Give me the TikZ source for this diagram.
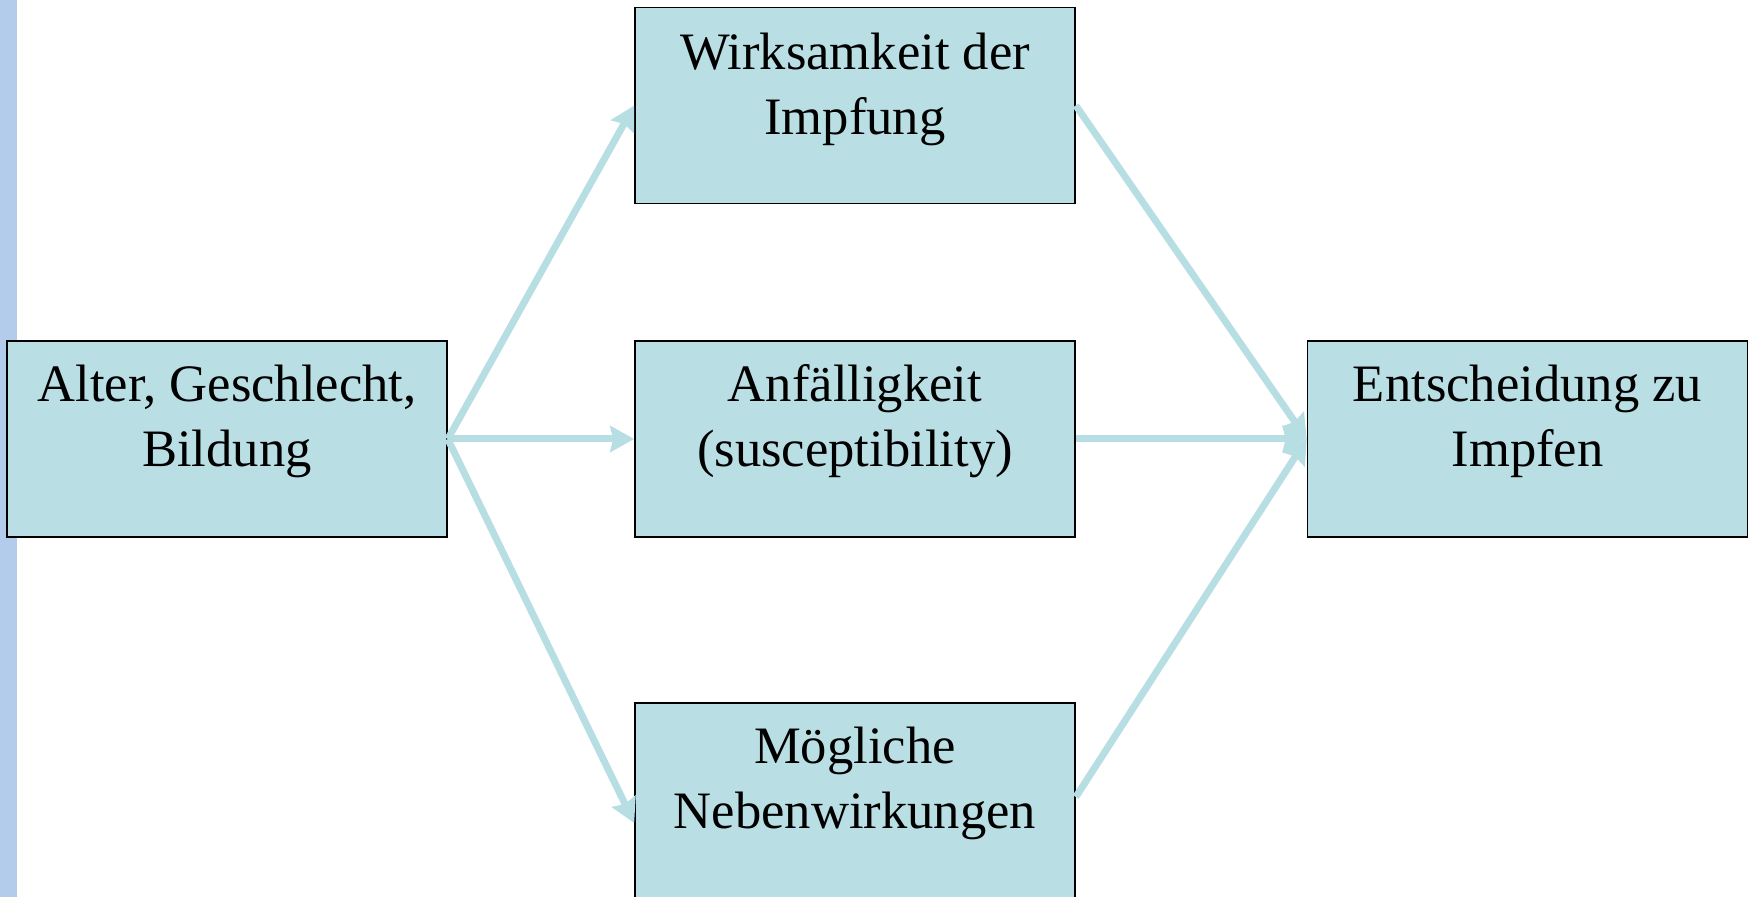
\documentclass[tikz,border=0pt]{standalone}
\usepackage{fontspec}
\setmainfont{Liberation Serif}
\usetikzlibrary{arrows.meta}
\definecolor{boxfill}{HTML}{B9DFE4}
\definecolor{arrowcol}{HTML}{B7DEE2}
\definecolor{barcol}{HTML}{B4CCEC}
\tikzset{
  boxnode/.style={draw=black, line width=0.8pt, fill=boxfill, minimum width=220pt, minimum height=98pt, inner sep=0pt},
  lbl/.style={align=center, inner sep=0pt, anchor=base, font=\fontsize{26.3}{32.5}\selectfont},
  conn/.style={draw=arrowcol, line width=3.5pt, -{Stealth[length=12pt, width=13pt, inset=1.5pt]}}
}
\begin{document}
\begin{tikzpicture}[x=0.5pt, y=-0.5pt]
\useasboundingbox (0,0) rectangle (1752,897);
\fill[barcol] (0,0) rectangle (17,897);
\node[boxnode] (l) at (227,439) {};
\node[boxnode] (t) at (855,105.5) {};
\node[boxnode] (m) at (855,439) {};
\node[boxnode] (b) at (855,801) {};
\node[boxnode] (r) at (1527.5,439) {};
\node[lbl] (lt) at ([yshift=-63pt]l.north) {Alter, Geschlecht,\\Bildung};
\node[lbl] (tt) at ([yshift=-64pt]t.north) {Wirksamkeit der\\Impfung};
\node[lbl] (mt) at ([yshift=-63pt]m.north) {Anfälligkeit\\(susceptibility)};
\node[lbl] (bt) at ([yshift=-63pt]b.north) {Mögliche\\Nebenwirkungen};
\node[lbl] (rt) at ([yshift=-63pt]r.north) {Entscheidung zu\\Impfen};
\draw[conn] (l.east) -- (t.west);
\draw[conn] (l.east) -- (m.west);
\draw[conn] (l.east) -- ([yshift=-11pt]b.west);
\draw[conn] (t.east) -- (r.west);
\draw[conn] (m.east) -- (r.west);
\draw[conn] ([yshift=2pt]b.east) -- (r.west);
\end{tikzpicture}
\end{document}
